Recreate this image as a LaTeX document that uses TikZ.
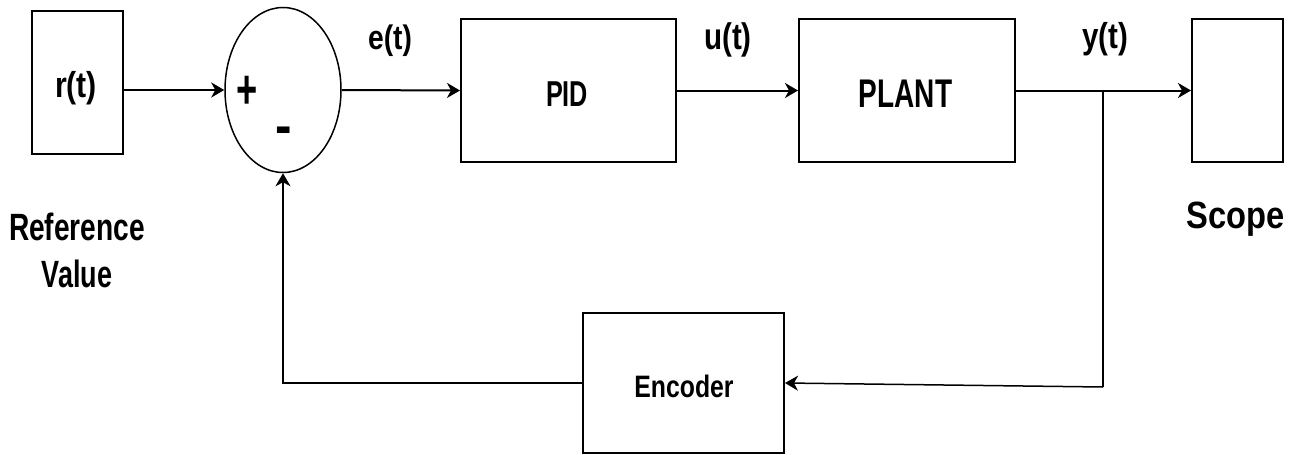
\documentclass[tikz,border=0pt]{standalone}
\usepackage{fontspec}
\setmainfont{Liberation Sans}
\usetikzlibrary{arrows.meta,shapes.geometric}

% narrowed bold text: \sqz{x-factor}{size}{text}
\newcommand\sqz[3]{\scalebox{#1}[1]{\fontsize{#2}{#2}\selectfont\bfseries #3}}

\tikzset{
  blk/.style={draw, line width=2pt, rectangle, inner sep=0pt},
  sumnode/.style={draw, line width=1.5pt, ellipse, inner sep=0pt},
  arr/.style={line width=2pt, -{Stealth[length=13pt,width=15pt,inset=4pt]}},
  thinarr/.style={line width=1.5pt, -{Stealth[length=13pt,width=15pt,inset=4pt]}},
  wire/.style={line width=1.5pt},
  lbl/.style={inner sep=0pt},
}

\begin{document}
\begin{tikzpicture}[x=1pt, y=-1pt]
  \useasboundingbox (0,0) rectangle (1309,455);

  % blocks
  \node[blk, minimum width=91pt, minimum height=143pt] (ref) at (77.5,82.5) {};
  \node[sumnode, minimum width=116pt, minimum height=165pt] (sum) at (283,90) {};
  \node[blk, minimum width=215pt, minimum height=143pt] (pid) at (568.5,90.5) {};
  \node[blk, minimum width=216pt, minimum height=143pt] (plant) at (907,90.5) {};
  \node[blk, minimum width=91pt, minimum height=143pt] (scope) at (1237.5,90.5) {};
  \node[blk, minimum width=201pt, minimum height=140pt] (enc) at (683.5,383) {};

  % block texts
  \node[lbl] (rt) at (76,88) {\sqz{0.84}{36}{r(t)}};
  \node[lbl, anchor=base] (pidtxt) at (567,106) {\sqz{0.70}{36}{PID}};
  \node[lbl, anchor=base] (planttxt) at (905.5,107) {\sqz{0.70}{40}{PLANT}};
  \node[lbl, anchor=base] (enctxt) at (684,397) {\sqz{0.80}{31}{Encoder}};
  \node[lbl] (plus) at (247,92) {\sqz{0.66}{55}{+}};
  \node[lbl] (minus) at (284,135.5) {\sqz{0.90}{55}{-}};

  % signal labels
  \node[lbl] (et) at (390,41) {\sqz{0.83}{34}{e(t)}};
  \node[lbl] (ut) at (728,39.5) {\sqz{0.80}{37}{u(t)}};
  \node[lbl] (yt) at (1105,39.5) {\sqz{0.82}{36}{y(t)}};
  \node[lbl, anchor=base] (reftxt) at (77,240) {\sqz{0.74}{38}{Reference}};
  \node[lbl, anchor=base] (valtxt) at (77,287) {\sqz{0.71}{38}{Value}};
  \node[lbl, anchor=base] (scopetxt) at (1236,228) {\sqz{0.86}{38}{Scope}};

  % forward path
  \draw[arr] (ref.east |- sum.west) -- (sum.west);
  \draw[arr] (sum.east) -- (pid.west);
  \draw[arr] (pid.east) -- (plant.west);
  \draw[arr] (plant.east) -- (scope.west);

  % feedback path
  \coordinate (tap) at (1103,90);
  \coordinate (tapdown) at (1103,387);
  \draw[wire] (tap) -- (tapdown);
  \draw[thinarr] (tapdown) -- (enc.east);
  \draw[thinarr] (enc.west) -| (sum.south);
\end{tikzpicture}
\end{document}
